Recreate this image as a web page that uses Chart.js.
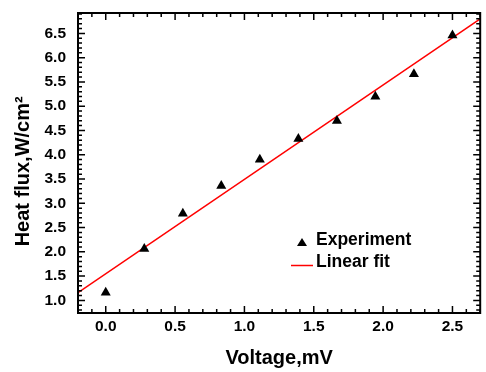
<!DOCTYPE html>
<html>
<head>
<meta charset="utf-8">
<script src="https://cdn.jsdelivr.net/npm/chart.js@4/dist/chart.umd.min.js"></script>
<style>
    html, body { margin: 0; padding: 0; background: #fff; }
</style>
</head>
<body>
<canvas id="fluxChart" width="486" height="372"></canvas>
<script>
// Datos
const voltage = [0, 0.278, 0.556, 0.833, 1.111, 1.389, 1.667, 1.944, 2.222, 2.5];
const heatFlux = [1.16, 2.06, 2.79, 3.36, 3.90, 4.33, 4.70, 5.20, 5.66, 6.46];
const fitVoltage = [-0.2, 2.7];
const fitHeatFlux = [1.16, 6.80];
const xTickLabels = ['0.0', '0.5', '1.0', '1.5', '2.0', '2.5'];
const yTickLabels = ['1.0', '1.5', '2.0', '2.5', '3.0', '3.5', '4.0', '4.5', '5.0', '5.5', '6.0', '6.5'];
const legendLabels = ['Experiment', 'Linear fit'];

const fontFamily = "'Liberation Sans', Arial, sans-serif";

// Marco y ticks hacia dentro en los cuatro lados (mayores cada 0.5, menores cada 0.1)
const frameTicks = {
    id: 'frameTicks',
    afterDatasetsDraw(chart) {
        const { ctx, chartArea: a, scales: { x, y } } = chart;
        ctx.save();
        ctx.strokeStyle = '#000';
        ctx.lineWidth = 1.5;
        ctx.beginPath();
        for (let i = Math.ceil(x.min * 10); i <= Math.floor(x.max * 10); i++) {
            const px = x.getPixelForValue(i / 10);
            const len = i % 5 === 0 ? 7 : 4;
            ctx.moveTo(px, a.bottom); ctx.lineTo(px, a.bottom - len);
            ctx.moveTo(px, a.top); ctx.lineTo(px, a.top + len);
        }
        for (let i = Math.ceil(y.min * 10); i <= Math.floor(y.max * 10); i++) {
            const py = y.getPixelForValue(i / 10);
            const len = i % 5 === 0 ? 7 : 4;
            ctx.moveTo(a.left, py); ctx.lineTo(a.left + len, py);
            ctx.moveTo(a.right, py); ctx.lineTo(a.right - len, py);
        }
        ctx.stroke();
        ctx.lineWidth = 2;
        ctx.strokeRect(a.left, a.top, a.right - a.left, a.bottom - a.top);
        ctx.restore();
    }
};

// Leyenda dentro del área del gráfico
const insideLegend = {
    id: 'insideLegend',
    afterDraw(chart) {
        const { ctx } = chart;
        ctx.save();
        ctx.fillStyle = '#000';
        ctx.font = `bold 17.5px ${fontFamily}`;
        ctx.textBaseline = 'alphabetic';
        // triángulo
        ctx.beginPath();
        ctx.moveTo(302, 238);
        ctx.lineTo(307, 246);
        ctx.lineTo(297, 246);
        ctx.closePath();
        ctx.fill();
        ctx.fillText(legendLabels[0], 316, 244.5);
        // línea roja
        ctx.strokeStyle = '#ff0000';
        ctx.lineWidth = 1.5;
        ctx.beginPath();
        ctx.moveTo(291, 265.5);
        ctx.lineTo(313, 265.5);
        ctx.stroke();
        ctx.fillText(legendLabels[1], 316, 267);
        ctx.restore();
    }
};

const ctx = document.getElementById('fluxChart').getContext('2d');
new Chart(ctx, {
    type: 'scatter',
    data: {
        datasets: [{
            label: legendLabels[0],
            data: voltage.map((v, i) => ({ x: v, y: heatFlux[i] })),
            pointStyle: 'triangle',
            pointRadius: 5.8,
            pointBackgroundColor: '#000',
            pointBorderWidth: 0,
            showLine: false
        }, {
            label: legendLabels[1],
            data: fitVoltage.map((v, i) => ({ x: v, y: fitHeatFlux[i] })),
            showLine: true,
            borderColor: '#ff0000',
            borderWidth: 1.5,
            pointRadius: 0,
            fill: false
        }]
    },
    options: {
        responsive: false,
        animation: false,
        devicePixelRatio: 1,
        layout: { padding: { top: 13, right: 1, left: 0, bottom: 0 } },
        plugins: {
            legend: { display: false },
            tooltip: { enabled: false }
        },
        scales: {
            x: {
                type: 'linear',
                min: -0.2,
                max: 2.7,
                grid: { display: false, drawTicks: false },
                border: { display: false },
                afterBuildTicks: (scale) => {
                    scale.ticks = xTickLabels.map(t => ({ value: parseFloat(t) }));
                },
                afterFit: (scale) => {
                    scale.height = 59;
                    scale.paddingLeft = 0;
                    scale.paddingRight = 0;
                },
                ticks: {
                    padding: 4,
                    color: '#000',
                    maxRotation: 0,
                    font: { family: fontFamily, size: 15.5, weight: 'bold' },
                    callback: (value) => Number(value).toFixed(1)
                },
                title: {
                    display: true,
                    text: 'Voltage,mV',
                    color: '#000',
                    padding: { top: 0, bottom: 2 },
                    font: { family: fontFamily, size: 20, weight: 'bold' }
                }
            },
            y: {
                type: 'linear',
                min: 0.74,
                max: 6.92,
                grid: { display: false, drawTicks: false },
                border: { display: false },
                afterBuildTicks: (scale) => {
                    scale.ticks = yTickLabels.map(t => ({ value: parseFloat(t) }));
                },
                afterFit: (scale) => {
                    scale.width = 78;
                    scale.paddingTop = 0;
                    scale.paddingBottom = 0;
                },
                ticks: {
                    padding: 12,
                    color: '#000',
                    font: { family: fontFamily, size: 15.5, weight: 'bold' },
                    callback: (value) => Number(value).toFixed(1)
                },
                title: {
                    display: true,
                    // espacios finales para bajar un poco el texto, como en el original
                    text: 'Heat flux,W/cm²   ',
                    color: '#000',
                    padding: { top: 11, bottom: 0 },
                    font: { family: fontFamily, size: 20, weight: 'bold' }
                }
            }
        }
    },
    plugins: [frameTicks, insideLegend]
});
</script>
</body>
</html>
